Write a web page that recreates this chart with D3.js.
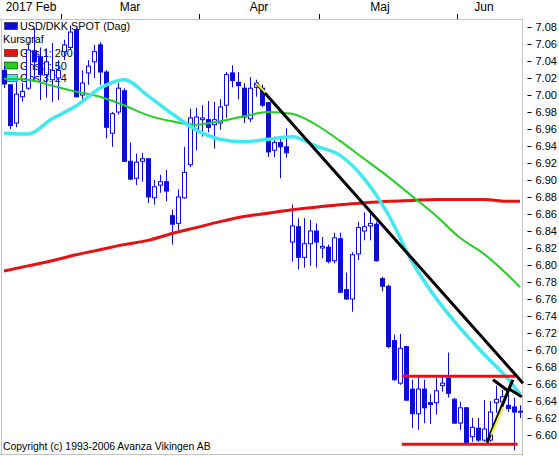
<!DOCTYPE html>
<html><head><meta charset="utf-8">
<script src="https://cdn.jsdelivr.net/npm/d3@7/dist/d3.min.js"></script>
<style>
html,body{margin:0;padding:0;background:#fff;}
svg{display:block;font-family:"Liberation Sans",Arial,sans-serif;}
</style></head><body>
<svg id="c" width="559" height="456"></svg>
<script>
// ---------- DATA ----------
const months = ["2017 Feb","Mar","Apr","Maj","Jun"];
const monthCounts = [10,23,20,23,11];
const open = [7.029,7.012,6.967,6.998,7.008,7.052,7.045,7.024,7.018,7.020,
 7.051,7.056,7.077,7.000,7.026,7.039,7.059,7.027,6.955,6.980,7.005,6.922,6.902,6.922,6.925,6.879,6.894,6.898,6.858,6.849,6.879,6.918,6.960,
 6.971,6.971,6.965,6.967,6.988,7.026,7.015,7.008,6.972,7.009,7.008,6.991,6.935,6.944,6.939,6.827,6.845,6.809,6.825,6.840,
 6.820,6.821,6.805,6.831,6.771,6.760,6.813,6.840,6.846,6.848,6.784,6.775,6.711,6.661,6.704,6.654,6.625,6.654,6.638,6.638,6.658,6.667,6.642,
 6.614,6.632,6.598,6.608,6.594,6.594,6.638,6.639,6.635,6.633,6.628];
const high = [7.034,7.013,7.015,7.014,7.061,7.079,7.056,7.055,7.061,7.041,
 7.065,7.082,7.079,7.029,7.041,7.059,7.062,7.029,6.980,7.014,7.008,6.944,6.931,6.932,6.926,6.900,6.906,6.912,6.865,6.889,6.939,6.984,6.985,
 6.988,6.993,6.992,6.995,7.027,7.035,7.027,7.014,7.021,7.018,7.012,6.992,6.951,6.949,6.961,6.871,6.855,6.855,6.853,6.849,
 6.833,6.824,6.838,6.838,6.791,6.815,6.851,6.862,6.861,6.851,6.786,6.777,6.718,6.719,6.705,6.665,6.668,6.665,6.648,6.667,6.668,6.697,6.644,
 6.639,6.633,6.620,6.620,6.641,6.640,6.658,6.653,6.648,6.644,6.635];
const low = [7.008,6.960,6.962,6.992,7.006,7.018,6.994,6.997,6.992,6.994,
 7.041,7.053,6.997,6.994,7.012,7.020,7.012,6.949,6.939,6.977,6.921,6.900,6.894,6.898,6.873,6.871,6.885,6.875,6.824,6.841,6.878,6.915,6.935,
 6.951,6.956,6.937,6.959,6.973,7.009,6.995,6.967,6.968,6.998,6.986,6.927,6.927,6.902,6.926,6.804,6.795,6.797,6.799,6.797,
 6.808,6.802,6.802,6.767,6.759,6.745,6.806,6.829,6.829,6.804,6.769,6.702,6.664,6.659,6.640,6.608,6.606,6.614,6.613,6.624,6.651,6.644,6.613,
 6.606,6.589,6.592,6.592,6.592,6.592,6.626,6.630,6.627,6.582,6.620];
const close = [7.013,6.964,7.001,7.004,7.053,7.039,7.024,7.039,7.029,7.029,
 7.059,7.074,6.998,7.014,7.034,7.051,7.027,6.962,6.978,7.008,6.922,6.901,6.921,6.925,6.880,6.892,6.898,6.887,6.848,6.880,6.909,6.973,6.974,
 6.973,6.962,6.971,6.986,7.024,7.017,7.011,6.974,7.008,7.014,6.988,6.933,6.944,6.939,6.932,6.846,6.809,6.825,6.840,6.827,
 6.822,6.804,6.832,6.768,6.760,6.812,6.844,6.845,6.849,6.805,6.775,6.704,6.665,6.702,6.641,6.625,6.654,6.632,6.636,6.652,6.661,6.649,6.614,
 6.632,6.591,6.609,6.594,6.607,6.627,6.642,6.645,6.631,6.627,6.628];

const yTicks = [7.08,7.06,7.04,7.02,7.00,6.98,6.96,6.94,6.92,6.90,6.88,6.86,6.84,6.82,6.80,6.78,6.76,6.74,6.72,6.70,6.68,6.66,6.64,6.62,6.60];

// moving averages read at candle indices
const maIdx = [0,4,8,12,16,20,24,28,32,36,40,44,48,52,56,60,64,68,72,76,80,84,86];
const ma200 = [6.793,6.799,6.805,6.812,6.818,6.824,6.829,6.837,6.844,6.851,6.857,6.861,6.865,6.868,6.871,6.873,6.875,6.876,6.877,6.877,6.877,6.875,6.875];
const ma50  = [7.019,7.018,7.011,7.004,6.998,6.988,6.976,6.969,6.965,6.969,6.975,6.980,6.978,6.965,6.946,6.925,6.904,6.881,6.858,6.832,6.813,6.788,6.774];
const ma24  = [6.955,6.954,6.972,6.987,7.008,7.018,6.999,6.978,6.959,6.948,6.945,6.948,6.951,6.940,6.929,6.902,6.860,6.804,6.761,6.726,6.695,6.666,6.648];

// drawn trend lines: [index0, value0, index1, value1]
const blackLines = [[42,7.014,86.5,6.661],[80.5,6.591,84.8,6.665],[81.5,6.665,84,6.652],[84,6.655,86.3,6.645]];
const yellowLines = [[42,7.014,43.6,7.003],[81.2,6.600,83.2,6.633]];
const redLevels = [[66.3,6.669,85.3,6.669],[66.3,6.589,85.6,6.589]];

const legendSeries = ["USD/DKK SPOT (Dag)","Gns 1: 200","Gns 2: 50","Gns 3: 24"];
const legendTitle = "Kursgraf";
const copyright = "Copyright (c) 1993-2006 Avanza Vikingen AB";

// ---------- CHART ----------
const svg = d3.select("#c");
const n = open.length;
const x = d3.scaleBand().domain(d3.range(n)).range([1,523]).padding(0);
const cx = i => x(i) + x.bandwidth()/2;
const xi = d3.scaleLinear().domain([0,n-1]).range([cx(0), cx(n-1)]);
const y = d3.scaleLinear().domain([6.60,7.08]).range([435,27]);

const blue = "#0c0cd8";
const frame = "#c4c4c4";

// frame
svg.append("line").attr("x1",0).attr("x2",523).attr("y1",19.5).attr("y2",19.5).attr("stroke",frame);
svg.append("line").attr("x1",522.5).attr("x2",522.5).attr("y1",19).attr("y2",456).attr("stroke",frame);
svg.append("line").attr("x1",1.5).attr("x2",1.5).attr("y1",19).attr("y2",455).attr("stroke",frame);
svg.append("line").attr("x1",0).attr("x2",523).attr("y1",454.5).attr("y2",454.5).attr("stroke",frame);

// month axis
const starts = [];
monthCounts.reduce((a,c)=>{starts.push(a);return a+c;},0);
const labelShift = [0,0,0,-8,-6];
const mg = svg.append("g");
mg.selectAll("line").data(starts.slice(1)).join("line")
  .attr("x1",d=>Math.round(x(d))+0.5).attr("x2",d=>Math.round(x(d))+0.5)
  .attr("y1",14).attr("y2",19).attr("stroke","#000");
mg.selectAll("text").data(months).join("text")
  .attr("x",(d,i)=>{const a=x(starts[i]); const b=i<months.length-1?x(starts[i+1]):523; return (a+b)/2+labelShift[i];})
  .attr("y",11).attr("text-anchor","middle").attr("font-size",12).attr("fill","#000").text(d=>d);

// y axis
const ya = svg.append("g").attr("transform","translate(527.5,0)")
  .call(d3.axisRight(y).tickValues(yTicks).tickFormat(d3.format(".2f")).tickSize(4).tickPadding(4));
ya.select(".domain").remove();
ya.selectAll("text").attr("font-size",11).attr("font-family","'Liberation Sans',Arial,sans-serif").attr("fill","#000");
ya.selectAll("line").attr("stroke","#000");

// legend (under the marks)
const lg = svg.append("g");
const legColors = [blue,"#e81010","#20d020","#40e8f0"];
const legY = [22,49,61.5,74];
lg.selectAll("rect").data(legendSeries).join("rect")
  .attr("x",4.5).attr("y",(d,i)=>legY[i]+0.5).attr("width",13).attr("height",7)
  .attr("fill",(d,i)=>legColors[i]).attr("stroke","#000").attr("stroke-width",0.5);
lg.selectAll("text.s").data(legendSeries).join("text").attr("class","s")
  .attr("x",20).attr("y",(d,i)=>legY[i]+8).attr("font-size",10.8).attr("fill","#000").text(d=>d);
lg.append("text").attr("x",3).attr("y",43).attr("font-size",10.8).attr("fill","#000").text(legendTitle);

// candles
const cg = svg.append("g");
const idx = d3.range(n);
cg.selectAll("line.w").data(idx).join("line").attr("class","w")
  .attr("x1",i=>cx(i)+0.5).attr("x2",i=>cx(i)+0.5)
  .attr("y1",i=>y(high[i])).attr("y2",i=>y(low[i]))
  .attr("stroke",blue).attr("stroke-width",1);
cg.selectAll("rect.b").data(idx).join("rect").attr("class","b")
  .attr("x",i=>cx(i)-1.5).attr("width",4)
  .attr("y",i=>Math.min(y(open[i]),y(close[i])))
  .attr("height",i=>Math.max(1,Math.abs(y(open[i])-y(close[i]))))
  .attr("fill",i=>close[i]<open[i]?blue:"#fff")
  .attr("stroke",blue).attr("stroke-width",1);

// moving averages
const mline = arr => d3.line().x((d,k)=>xi(maIdx[k])).y(d=>y(d)).curve(d3.curveMonotoneX)(arr);
svg.append("path").attr("d",mline(ma200)).attr("fill","none").attr("stroke","#e81010").attr("stroke-width",3);
svg.append("path").attr("d",mline(ma50)).attr("fill","none").attr("stroke","#20d020").attr("stroke-width",2);
svg.append("path").attr("d",mline(ma24)).attr("fill","none").attr("stroke","#40e8f0").attr("stroke-width",3.5);

// trend lines
const seg = (g,data,color,w)=>g.selectAll(null).data(data).join("line")
  .attr("x1",d=>xi(d[0])).attr("y1",d=>y(d[1])).attr("x2",d=>xi(d[2])).attr("y2",d=>y(d[3]))
  .attr("stroke",color).attr("stroke-width",w);
const tg = svg.append("g");
seg(tg,redLevels,"#e81010",3);
seg(tg,blackLines,"#000",3);
seg(tg,yellowLines,"#f0f040",2);

// copyright
svg.append("text").attr("x",3).attr("y",450).attr("font-size",10.4).attr("fill","#000").text(copyright);
</script>
</body></html>
